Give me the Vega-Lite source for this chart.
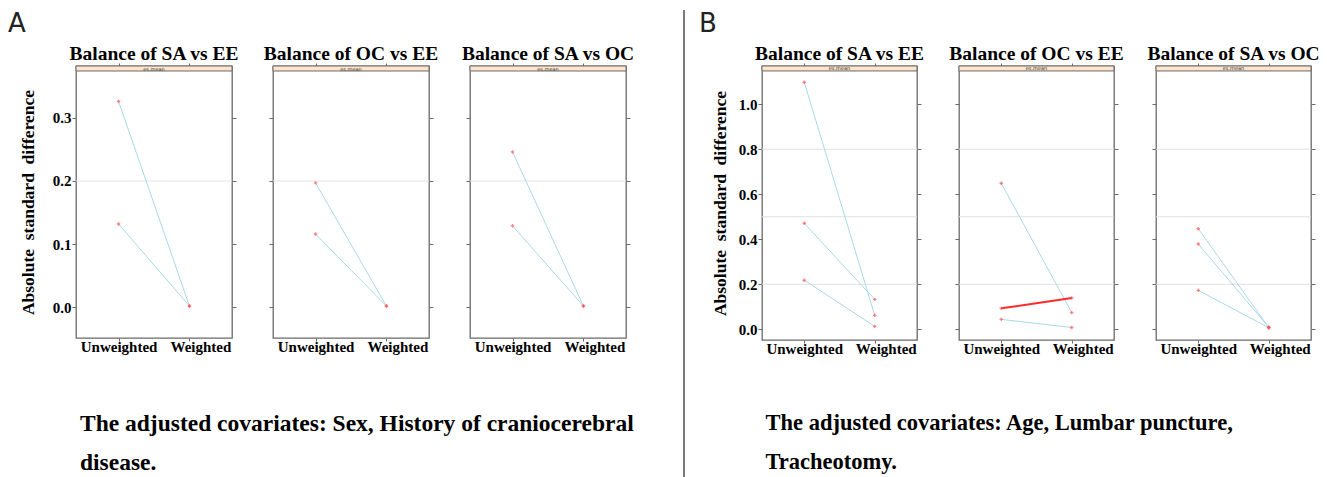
{
  "$schema": "https://vega.github.io/schema/vega-lite/v6.json",
  "padding": {"left": 8, "top": 8, "right": 5, "bottom": 0},
  "background": "white",
  "spacing": 14,
  "datasets": {
    "d": [
      {"half": "A", "cmp": "SA vs EE", "pair": "a1", "status": "Unweighted", "value": 0.326, "dir": "down"},
      {"half": "A", "cmp": "SA vs EE", "pair": "a1", "status": "Weighted", "value": 0.002, "dir": "down"},
      {"half": "A", "cmp": "SA vs EE", "pair": "a2", "status": "Unweighted", "value": 0.132, "dir": "down"},
      {"half": "A", "cmp": "SA vs EE", "pair": "a2", "status": "Weighted", "value": 0.002, "dir": "down"},
      {"half": "A", "cmp": "OC vs EE", "pair": "b1", "status": "Unweighted", "value": 0.197, "dir": "down"},
      {"half": "A", "cmp": "OC vs EE", "pair": "b1", "status": "Weighted", "value": 0.002, "dir": "down"},
      {"half": "A", "cmp": "OC vs EE", "pair": "b2", "status": "Unweighted", "value": 0.116, "dir": "down"},
      {"half": "A", "cmp": "OC vs EE", "pair": "b2", "status": "Weighted", "value": 0.002, "dir": "down"},
      {"half": "A", "cmp": "SA vs OC", "pair": "c1", "status": "Unweighted", "value": 0.246, "dir": "down"},
      {"half": "A", "cmp": "SA vs OC", "pair": "c1", "status": "Weighted", "value": 0.002, "dir": "down"},
      {"half": "A", "cmp": "SA vs OC", "pair": "c2", "status": "Unweighted", "value": 0.129, "dir": "down"},
      {"half": "A", "cmp": "SA vs OC", "pair": "c2", "status": "Weighted", "value": 0.002, "dir": "down"},
      {"half": "B", "cmp": "SA vs EE", "pair": "d1", "status": "Unweighted", "value": 1.098, "dir": "down"},
      {"half": "B", "cmp": "SA vs EE", "pair": "d1", "status": "Weighted", "value": 0.062, "dir": "down"},
      {"half": "B", "cmp": "SA vs EE", "pair": "d2", "status": "Unweighted", "value": 0.471, "dir": "down"},
      {"half": "B", "cmp": "SA vs EE", "pair": "d2", "status": "Weighted", "value": 0.133, "dir": "down"},
      {"half": "B", "cmp": "SA vs EE", "pair": "d3", "status": "Unweighted", "value": 0.218, "dir": "down"},
      {"half": "B", "cmp": "SA vs EE", "pair": "d3", "status": "Weighted", "value": 0.013, "dir": "down"},
      {"half": "B", "cmp": "OC vs EE", "pair": "e1", "status": "Unweighted", "value": 0.649, "dir": "down"},
      {"half": "B", "cmp": "OC vs EE", "pair": "e1", "status": "Weighted", "value": 0.074, "dir": "down"},
      {"half": "B", "cmp": "OC vs EE", "pair": "e2", "status": "Unweighted", "value": 0.093, "dir": "up"},
      {"half": "B", "cmp": "OC vs EE", "pair": "e2", "status": "Weighted", "value": 0.139, "dir": "up"},
      {"half": "B", "cmp": "OC vs EE", "pair": "e3", "status": "Unweighted", "value": 0.044, "dir": "down"},
      {"half": "B", "cmp": "OC vs EE", "pair": "e3", "status": "Weighted", "value": 0.008, "dir": "down"},
      {"half": "B", "cmp": "SA vs OC", "pair": "f1", "status": "Unweighted", "value": 0.447, "dir": "down"},
      {"half": "B", "cmp": "SA vs OC", "pair": "f1", "status": "Weighted", "value": 0.008, "dir": "down"},
      {"half": "B", "cmp": "SA vs OC", "pair": "f2", "status": "Unweighted", "value": 0.379, "dir": "down"},
      {"half": "B", "cmp": "SA vs OC", "pair": "f2", "status": "Weighted", "value": 0.009, "dir": "down"},
      {"half": "B", "cmp": "SA vs OC", "pair": "f3", "status": "Unweighted", "value": 0.173, "dir": "down"},
      {"half": "B", "cmp": "SA vs OC", "pair": "f3", "status": "Weighted", "value": 0.007, "dir": "down"}
    ],
    "gridA": [{"r": 0.2}],
    "gridB": [{"r": 0.2}, {"r": 0.5}, {"r": 0.8}]
  },
  "config": {
    "view": {"stroke": "#6a6a6a", "strokeWidth": 1.3},
    "font": "Liberation Serif",
    "axis": {
      "labelFont": "Liberation Serif", "labelFontWeight": "bold", "labelFontSize": 15, "labelColor": "#000",
      "tickColor": "#6a6a6a", "tickSize": 4, "domain": false, "grid": false,
      "titleFont": "Liberation Serif", "titleFontWeight": "bold", "titleFontSize": 17.5, "titleColor": "#000",
      "labelPadding": 1
    },
    "axisX": {"labelOffset": {"expr": "datum.value == 'Weighted' ? 11 : 0"}},
    "title": {"font": "Liberation Serif", "fontSize": 19.5, "fontWeight": "bold", "color": "#000", "offset": -2}
  },
  "hconcat": [
    {
      "title": {"text": "A", "anchor": "start", "font": "DejaVu Sans", "fontWeight": "normal", "fontSize": 26, "color": "#222", "offset": 6, "dx": -10.5},
      "bounds": "flush",
      "spacing": 41,
      "hconcat": [
        {
          "width": 156, "height": 272,
          "title": "Balance of SA vs EE",
          "resolve": {"axis": {"x": "independent", "y": "independent"}, "scale": {"x": "independent"}},
          "layer": [
            {"data": {"name": "gridA"}, "mark": {"type": "rule", "color": "#e2e2e2", "strokeWidth": 1},
             "encoding": {
               "x": {"datum": 0, "type": "quantitative", "scale": {"domain": [0, 1]}, "axis": null}, "x2": {"datum": 1},
               "y": {"field": "r", "type": "quantitative", "scale": {"domain": [-0.0485, 0.382], "nice": false, "zero": false},
               "axis": {"orient": "left", "values": [0, 0.1, 0.2, 0.3], "format": ".1f", "title": "Absolute\u00a0 standard\u00a0 difference", "titlePadding": 15}}}},
            {"data": {"values": [{}]}, "mark": {"type": "rect", "fill": "#ffe5cc", "stroke": "#6a6a6a", "strokeWidth": 1},
             "encoding": {"x": {"datum": 0, "type": "quantitative", "scale": {"domain": [0, 1]}, "axis": null}, "x2": {"datum": 1},
               "y": {"datum": 0.3741, "type": "quantitative", "axis": null}, "y2": {"datum": 0.382}}},
            {"data": {"values": [{}]}, "mark": {"type": "text", "text": "es.mean", "fontSize": 5, "font": "DejaVu Sans", "color": "#333", "baseline": "middle"},
             "encoding": {"x": {"datum": 0.5, "type": "quantitative", "scale": {"domain": [0, 1]}, "axis": null},
               "y": {"datum": 0.378, "type": "quantitative", "axis": null}}},
            {"data": {"name": "d"}, "transform": [{"filter": "datum.half == 'A' && datum.cmp == 'SA vs EE'"}],
             "mark": {"type": "line"},
             "encoding": {
               "x": {"field": "status", "type": "nominal", "scale": {"type": "point", "domain": ["Unweighted", "Weighted"], "padding": 0.6},
                 "axis": {"orient": "bottom", "labelAngle": 0, "tickSize": 3, "labelPadding": -2,
                   "title": ["The adjusted covariates: Sex, History of craniocerebral", "disease."],
                   "titleFontSize": 23.5, "titleLineHeight": 39, "titleAnchor": "start", "titleAlign": "left", "titleX": 3.5, "titlePadding": 57}},
               "y": {"field": "value", "type": "quantitative", "axis": {"orient": "right", "values": [0, 0.1, 0.2, 0.3], "labels": false, "title": null}},
               "detail": {"field": "pair"},
               "color": {"field": "dir", "type": "nominal", "scale": {"domain": ["down", "up"], "range": ["#a9d9e8", "#ff2a2a"]}, "legend": null},
               "strokeWidth": {"field": "dir", "type": "nominal", "scale": {"domain": ["down", "up"], "range": [1, 2]}, "legend": null}
             }},
            {"data": {"name": "d"}, "transform": [{"filter": "datum.half == 'A' && datum.cmp == 'SA vs EE'"}],
             "mark": {"type": "point", "shape": "cross", "size": 12, "filled": true, "color": "#ff5050"},
             "encoding": {
               "x": {"field": "status", "type": "nominal", "scale": {"type": "point", "domain": ["Unweighted", "Weighted"], "padding": 0.6},
                 "axis": {"orient": "top", "labels": false, "tickSize": 3, "title": null}},
               "y": {"field": "value", "type": "quantitative", "axis": null}
             }}
          ]
        },
        {
          "width": 156, "height": 272,
          "title": "Balance of OC vs EE",
          "resolve": {"axis": {"x": "independent", "y": "independent"}, "scale": {"x": "independent"}},
          "layer": [
            {"data": {"name": "gridA"}, "mark": {"type": "rule", "color": "#e2e2e2", "strokeWidth": 1},
             "encoding": {
               "x": {"datum": 0, "type": "quantitative", "scale": {"domain": [0, 1]}, "axis": null}, "x2": {"datum": 1},
               "y": {"field": "r", "type": "quantitative", "scale": {"domain": [-0.0485, 0.382], "nice": false, "zero": false},
               "axis": {"orient": "left", "values": [0, 0.1, 0.2, 0.3], "labels": false, "title": null}}}},
            {"data": {"values": [{}]}, "mark": {"type": "rect", "fill": "#ffe5cc", "stroke": "#6a6a6a", "strokeWidth": 1},
             "encoding": {"x": {"datum": 0, "type": "quantitative", "scale": {"domain": [0, 1]}, "axis": null}, "x2": {"datum": 1},
               "y": {"datum": 0.3741, "type": "quantitative", "axis": null}, "y2": {"datum": 0.382}}},
            {"data": {"values": [{}]}, "mark": {"type": "text", "text": "es.mean", "fontSize": 5, "font": "DejaVu Sans", "color": "#333", "baseline": "middle"},
             "encoding": {"x": {"datum": 0.5, "type": "quantitative", "scale": {"domain": [0, 1]}, "axis": null},
               "y": {"datum": 0.378, "type": "quantitative", "axis": null}}},
            {"data": {"name": "d"}, "transform": [{"filter": "datum.half == 'A' && datum.cmp == 'OC vs EE'"}],
             "mark": {"type": "line"},
             "encoding": {
               "x": {"field": "status", "type": "nominal", "scale": {"type": "point", "domain": ["Unweighted", "Weighted"], "padding": 0.6},
                 "axis": {"orient": "bottom", "labelAngle": 0, "tickSize": 3, "labelPadding": -2, "title": null}},
               "y": {"field": "value", "type": "quantitative", "axis": {"orient": "right", "values": [0, 0.1, 0.2, 0.3], "labels": false, "title": null}},
               "detail": {"field": "pair"},
               "color": {"field": "dir", "type": "nominal", "scale": {"domain": ["down", "up"], "range": ["#a9d9e8", "#ff2a2a"]}, "legend": null},
               "strokeWidth": {"field": "dir", "type": "nominal", "scale": {"domain": ["down", "up"], "range": [1, 2]}, "legend": null}
             }},
            {"data": {"name": "d"}, "transform": [{"filter": "datum.half == 'A' && datum.cmp == 'OC vs EE'"}],
             "mark": {"type": "point", "shape": "cross", "size": 12, "filled": true, "color": "#ff5050"},
             "encoding": {
               "x": {"field": "status", "type": "nominal", "scale": {"type": "point", "domain": ["Unweighted", "Weighted"], "padding": 0.6},
                 "axis": {"orient": "top", "labels": false, "tickSize": 3, "title": null}},
               "y": {"field": "value", "type": "quantitative", "axis": null}
             }}
          ]
        },
        {
          "width": 156, "height": 272,
          "title": "Balance of SA vs OC",
          "resolve": {"axis": {"x": "independent", "y": "independent"}, "scale": {"x": "independent"}},
          "layer": [
            {"data": {"name": "gridA"}, "mark": {"type": "rule", "color": "#e2e2e2", "strokeWidth": 1},
             "encoding": {
               "x": {"datum": 0, "type": "quantitative", "scale": {"domain": [0, 1]}, "axis": null}, "x2": {"datum": 1},
               "y": {"field": "r", "type": "quantitative", "scale": {"domain": [-0.0485, 0.382], "nice": false, "zero": false},
               "axis": {"orient": "left", "values": [0, 0.1, 0.2, 0.3], "labels": false, "title": null}}}},
            {"data": {"values": [{}]}, "mark": {"type": "rect", "fill": "#ffe5cc", "stroke": "#6a6a6a", "strokeWidth": 1},
             "encoding": {"x": {"datum": 0, "type": "quantitative", "scale": {"domain": [0, 1]}, "axis": null}, "x2": {"datum": 1},
               "y": {"datum": 0.3741, "type": "quantitative", "axis": null}, "y2": {"datum": 0.382}}},
            {"data": {"values": [{}]}, "mark": {"type": "text", "text": "es.mean", "fontSize": 5, "font": "DejaVu Sans", "color": "#333", "baseline": "middle"},
             "encoding": {"x": {"datum": 0.5, "type": "quantitative", "scale": {"domain": [0, 1]}, "axis": null},
               "y": {"datum": 0.378, "type": "quantitative", "axis": null}}},
            {"data": {"name": "d"}, "transform": [{"filter": "datum.half == 'A' && datum.cmp == 'SA vs OC'"}],
             "mark": {"type": "line"},
             "encoding": {
               "x": {"field": "status", "type": "nominal", "scale": {"type": "point", "domain": ["Unweighted", "Weighted"], "padding": 0.6},
                 "axis": {"orient": "bottom", "labelAngle": 0, "tickSize": 3, "labelPadding": -2, "title": null}},
               "y": {"field": "value", "type": "quantitative", "axis": {"orient": "right", "values": [0, 0.1, 0.2, 0.3], "labels": false, "title": null}},
               "detail": {"field": "pair"},
               "color": {"field": "dir", "type": "nominal", "scale": {"domain": ["down", "up"], "range": ["#a9d9e8", "#ff2a2a"]}, "legend": null},
               "strokeWidth": {"field": "dir", "type": "nominal", "scale": {"domain": ["down", "up"], "range": [1, 2]}, "legend": null}
             }},
            {"data": {"name": "d"}, "transform": [{"filter": "datum.half == 'A' && datum.cmp == 'SA vs OC'"}],
             "mark": {"type": "point", "shape": "cross", "size": 12, "filled": true, "color": "#ff5050"},
             "encoding": {
               "x": {"field": "status", "type": "nominal", "scale": {"type": "point", "domain": ["Unweighted", "Weighted"], "padding": 0.6},
                 "axis": {"orient": "top", "labels": false, "tickSize": 3, "title": null}},
               "y": {"field": "value", "type": "quantitative", "axis": null}
             }}
          ]
        }
      ]
    },
    {
      "width": 34, "height": 272,
      "view": {"stroke": null},
      "data": {"values": [{}]},
      "mark": {"type": "rule", "color": "#7a7a7a", "strokeWidth": 2, "clip": false},
      "encoding": {
        "x": {"datum": 1, "type": "quantitative", "scale": {"domain": [0, 1]}, "axis": null},
        "y": {"datum": -0.518, "type": "quantitative", "scale": {"domain": [0, 1], "nice": false, "zero": false}, "axis": null},
        "y2": {"datum": 1.206}
      }
    },
    {
      "title": {"text": "B", "anchor": "start", "font": "DejaVu Sans", "fontWeight": "normal", "fontSize": 26, "color": "#222", "offset": 6, "dx": -11.5},
      "bounds": "flush",
      "spacing": 42,
      "hconcat": [
        {
          "width": 155, "height": 274,
          "title": "Balance of SA vs EE",
          "resolve": {"axis": {"x": "independent", "y": "independent"}, "scale": {"x": "independent"}},
          "layer": [
            {"data": {"name": "gridB"}, "mark": {"type": "rule", "color": "#e2e2e2", "strokeWidth": 1},
             "encoding": {
               "x": {"datum": 0, "type": "quantitative", "scale": {"domain": [0, 1]}, "axis": null}, "x2": {"datum": 1},
               "y": {"field": "r", "type": "quantitative", "scale": {"domain": [-0.0476, 1.17], "nice": false, "zero": false},
               "axis": {"orient": "left", "values": [0, 0.2, 0.4, 0.6, 0.8, 1.0], "format": ".1f", "title": "Absolute\u00a0 standard\u00a0 difference", "titlePadding": 9}}}},
            {"data": {"values": [{}]}, "mark": {"type": "rect", "fill": "#ffe5cc", "stroke": "#6a6a6a", "strokeWidth": 1},
             "encoding": {"x": {"datum": 0, "type": "quantitative", "scale": {"domain": [0, 1]}, "axis": null}, "x2": {"datum": 1},
               "y": {"datum": 1.148, "type": "quantitative", "axis": null}, "y2": {"datum": 1.17}}},
            {"data": {"values": [{}]}, "mark": {"type": "text", "text": "es.mean", "fontSize": 5, "font": "DejaVu Sans", "color": "#333", "baseline": "middle"},
             "encoding": {"x": {"datum": 0.5, "type": "quantitative", "scale": {"domain": [0, 1]}, "axis": null},
               "y": {"datum": 1.159, "type": "quantitative", "axis": null}}},
            {"data": {"name": "d"}, "transform": [{"filter": "datum.half == 'B' && datum.cmp == 'SA vs EE'"}],
             "mark": {"type": "line"},
             "encoding": {
               "x": {"field": "status", "type": "nominal", "scale": {"type": "point", "domain": ["Unweighted", "Weighted"], "padding": 0.6},
                 "axis": {"orient": "bottom", "labelAngle": 0, "tickSize": 3, "labelPadding": -2,
                   "title": ["The adjusted covariates: Age, Lumbar puncture,", "Tracheotomy."],
                   "titleFontSize": 22.5, "titleLineHeight": 39, "titleAnchor": "start", "titleAlign": "left", "titleX": 3, "titlePadding": 55}},
               "y": {"field": "value", "type": "quantitative", "axis": {"orient": "right", "values": [0, 0.2, 0.4, 0.6, 0.8, 1.0], "labels": false, "title": null}},
               "detail": {"field": "pair"},
               "color": {"field": "dir", "type": "nominal", "scale": {"domain": ["down", "up"], "range": ["#a9d9e8", "#ff2a2a"]}, "legend": null},
               "strokeWidth": {"field": "dir", "type": "nominal", "scale": {"domain": ["down", "up"], "range": [1, 2]}, "legend": null}
             }},
            {"data": {"name": "d"}, "transform": [{"filter": "datum.half == 'B' && datum.cmp == 'SA vs EE'"}],
             "mark": {"type": "point", "shape": "cross", "size": 12, "filled": true, "color": "#ff5050"},
             "encoding": {
               "x": {"field": "status", "type": "nominal", "scale": {"type": "point", "domain": ["Unweighted", "Weighted"], "padding": 0.6},
                 "axis": {"orient": "top", "labels": false, "tickSize": 3, "title": null}},
               "y": {"field": "value", "type": "quantitative", "axis": null}
             }}
          ]
        },
        {
          "width": 155, "height": 274,
          "title": "Balance of OC vs EE",
          "resolve": {"axis": {"x": "independent", "y": "independent"}, "scale": {"x": "independent"}},
          "layer": [
            {"data": {"name": "gridB"}, "mark": {"type": "rule", "color": "#e2e2e2", "strokeWidth": 1},
             "encoding": {
               "x": {"datum": 0, "type": "quantitative", "scale": {"domain": [0, 1]}, "axis": null}, "x2": {"datum": 1},
               "y": {"field": "r", "type": "quantitative", "scale": {"domain": [-0.0476, 1.17], "nice": false, "zero": false},
               "axis": {"orient": "left", "values": [0, 0.2, 0.4, 0.6, 0.8, 1.0], "labels": false, "title": null}}}},
            {"data": {"values": [{}]}, "mark": {"type": "rect", "fill": "#ffe5cc", "stroke": "#6a6a6a", "strokeWidth": 1},
             "encoding": {"x": {"datum": 0, "type": "quantitative", "scale": {"domain": [0, 1]}, "axis": null}, "x2": {"datum": 1},
               "y": {"datum": 1.148, "type": "quantitative", "axis": null}, "y2": {"datum": 1.17}}},
            {"data": {"values": [{}]}, "mark": {"type": "text", "text": "es.mean", "fontSize": 5, "font": "DejaVu Sans", "color": "#333", "baseline": "middle"},
             "encoding": {"x": {"datum": 0.5, "type": "quantitative", "scale": {"domain": [0, 1]}, "axis": null},
               "y": {"datum": 1.159, "type": "quantitative", "axis": null}}},
            {"data": {"name": "d"}, "transform": [{"filter": "datum.half == 'B' && datum.cmp == 'OC vs EE'"}],
             "mark": {"type": "line"},
             "encoding": {
               "x": {"field": "status", "type": "nominal", "scale": {"type": "point", "domain": ["Unweighted", "Weighted"], "padding": 0.6},
                 "axis": {"orient": "bottom", "labelAngle": 0, "tickSize": 3, "labelPadding": -2, "title": null}},
               "y": {"field": "value", "type": "quantitative", "axis": {"orient": "right", "values": [0, 0.2, 0.4, 0.6, 0.8, 1.0], "labels": false, "title": null}},
               "detail": {"field": "pair"},
               "color": {"field": "dir", "type": "nominal", "scale": {"domain": ["down", "up"], "range": ["#a9d9e8", "#ff2a2a"]}, "legend": null},
               "strokeWidth": {"field": "dir", "type": "nominal", "scale": {"domain": ["down", "up"], "range": [1, 2]}, "legend": null}
             }},
            {"data": {"name": "d"}, "transform": [{"filter": "datum.half == 'B' && datum.cmp == 'OC vs EE'"}],
             "mark": {"type": "point", "shape": "cross", "size": 12, "filled": true, "color": "#ff5050"},
             "encoding": {
               "x": {"field": "status", "type": "nominal", "scale": {"type": "point", "domain": ["Unweighted", "Weighted"], "padding": 0.6},
                 "axis": {"orient": "top", "labels": false, "tickSize": 3, "title": null}},
               "y": {"field": "value", "type": "quantitative", "axis": null}
             }}
          ]
        },
        {
          "width": 155, "height": 274,
          "title": "Balance of SA vs OC",
          "resolve": {"axis": {"x": "independent", "y": "independent"}, "scale": {"x": "independent"}},
          "layer": [
            {"data": {"name": "gridB"}, "mark": {"type": "rule", "color": "#e2e2e2", "strokeWidth": 1},
             "encoding": {
               "x": {"datum": 0, "type": "quantitative", "scale": {"domain": [0, 1]}, "axis": null}, "x2": {"datum": 1},
               "y": {"field": "r", "type": "quantitative", "scale": {"domain": [-0.0476, 1.17], "nice": false, "zero": false},
               "axis": {"orient": "left", "values": [0, 0.2, 0.4, 0.6, 0.8, 1.0], "labels": false, "title": null}}}},
            {"data": {"values": [{}]}, "mark": {"type": "rect", "fill": "#ffe5cc", "stroke": "#6a6a6a", "strokeWidth": 1},
             "encoding": {"x": {"datum": 0, "type": "quantitative", "scale": {"domain": [0, 1]}, "axis": null}, "x2": {"datum": 1},
               "y": {"datum": 1.148, "type": "quantitative", "axis": null}, "y2": {"datum": 1.17}}},
            {"data": {"values": [{}]}, "mark": {"type": "text", "text": "es.mean", "fontSize": 5, "font": "DejaVu Sans", "color": "#333", "baseline": "middle"},
             "encoding": {"x": {"datum": 0.5, "type": "quantitative", "scale": {"domain": [0, 1]}, "axis": null},
               "y": {"datum": 1.159, "type": "quantitative", "axis": null}}},
            {"data": {"name": "d"}, "transform": [{"filter": "datum.half == 'B' && datum.cmp == 'SA vs OC'"}],
             "mark": {"type": "line"},
             "encoding": {
               "x": {"field": "status", "type": "nominal", "scale": {"type": "point", "domain": ["Unweighted", "Weighted"], "padding": 0.6},
                 "axis": {"orient": "bottom", "labelAngle": 0, "tickSize": 3, "labelPadding": -2, "title": null}},
               "y": {"field": "value", "type": "quantitative", "axis": {"orient": "right", "values": [0, 0.2, 0.4, 0.6, 0.8, 1.0], "labels": false, "title": null}},
               "detail": {"field": "pair"},
               "color": {"field": "dir", "type": "nominal", "scale": {"domain": ["down", "up"], "range": ["#a9d9e8", "#ff2a2a"]}, "legend": null},
               "strokeWidth": {"field": "dir", "type": "nominal", "scale": {"domain": ["down", "up"], "range": [1, 2]}, "legend": null}
             }},
            {"data": {"name": "d"}, "transform": [{"filter": "datum.half == 'B' && datum.cmp == 'SA vs OC'"}],
             "mark": {"type": "point", "shape": "cross", "size": 12, "filled": true, "color": "#ff5050"},
             "encoding": {
               "x": {"field": "status", "type": "nominal", "scale": {"type": "point", "domain": ["Unweighted", "Weighted"], "padding": 0.6},
                 "axis": {"orient": "top", "labels": false, "tickSize": 3, "title": null}},
               "y": {"field": "value", "type": "quantitative", "axis": null}
             }}
          ]
        }
      ]
    }
  ]
}
